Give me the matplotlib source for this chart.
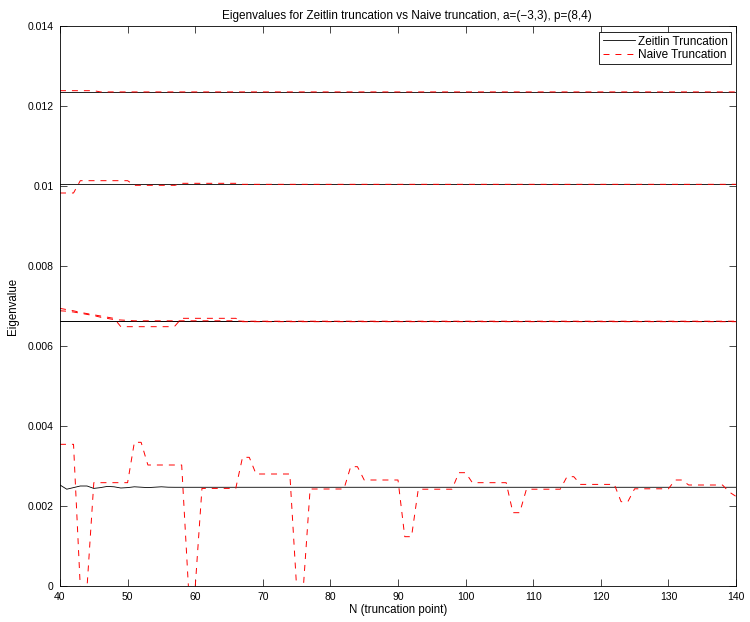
import numpy as np
import matplotlib
matplotlib.use("Agg")
import matplotlib.pyplot as plt

plt.rcParams['font.family'] = ['Liberation Sans', 'DejaVu Sans']
plt.rcParams['lines.scale_dashes'] = False

# truncation points
N = np.arange(40, 141)

# Eigenvalues, stored as (value, how many N in a row)
# Zeitlin truncation
z_top = [(0.012358, 101)]
z_second = [(0.010042, 101)]
z_third_a = [(0.006622, 101)]
z_third_b = [(0.006633, 101)]
z_low_start = [0.002525, 0.00242, 0.00246, 0.00250, 0.00250, 0.00244, 0.00246,
               0.00249, 0.00248, 0.00245, 0.00246, 0.00248, 0.00247, 0.00246,
               0.00247, 0.00248, 0.00247]
z_low_rest = [(0.002468, 84)]

# Naive truncation
n_top = [(0.012383, 6), (0.012352, 95)]
n_second = [(0.009825, 3), (0.010133, 8), (0.010017, 7), (0.010067, 9), (0.010042, 74)]
n_third_a_start = [0.00694, 0.00691, 0.00688, 0.00684, 0.00681, 0.00678, 0.00675,
                   0.00672, 0.00669]
n_third_a_rest = [(0.006483, 8), (0.0065, 1), (0.006692, 9), (0.006608, 74)]
n_third_b_start = [0.00688, 0.00687, 0.00685, 0.00682, 0.00679, 0.00676, 0.00672,
                   0.00669, 0.00666, 0.00665, 0.00664]
n_third_b_rest = [(0.00663, 16), (0.00662, 74)]
n_low = [(0.003542, 3), (-0.00003, 2),
         (0.002583, 6), (0.003592, 2), (0.003025, 6), (-0.00003, 2),
         (0.00244, 6), (0.003217, 2), (0.0028, 6), (-0.00003, 2),
         (0.002425, 6), (0.002983, 2), (0.00265, 6), (0.001233, 2),
         (0.00242, 6), (0.002833, 2), (0.002583, 6), (0.001833, 2),
         (0.00242, 6), (0.002733, 2), (0.00254, 6), (0.002108, 2),
         (0.00243, 6), (0.00265, 2), (0.002525, 6), (0.00235, 1), (0.00224, 1)]


def expand(runs, start=()):
    vals = list(start)
    for v, k in runs:
        vals += [v] * k
    return np.array(vals)


zeitlin = np.column_stack([expand(z_top), expand(z_second), expand(z_third_a),
                           expand(z_third_b), expand(z_low_rest, z_low_start)])
naive = np.column_stack([expand(n_top), expand(n_second),
                         expand(n_third_a_rest, n_third_a_start),
                         expand(n_third_b_rest, n_third_b_start), expand(n_low)])

fig = plt.figure(figsize=(7.5, 6.22), dpi=100)
ax = fig.add_axes([60 / 750, 36 / 622, 676 / 750, 560 / 622])

hz = ax.plot(N, zeitlin, color='black', linewidth=0.6)
hn = ax.plot(N, naive, color='red', linewidth=0.7, linestyle='--', dashes=(4.3, 4.3))

ax.set_xlim(40, 140)
ax.set_ylim(0, 0.014)
ax.set_xticks(np.arange(40, 141, 10))
yt = [0, 0.002, 0.004, 0.006, 0.008, 0.01, 0.012, 0.014]
ax.set_yticks(yt)
ax.set_yticklabels(['%g' % v for v in yt])
ax.tick_params(direction='in', length=4.9, width=0.5, labelsize=7.5,
               top=True, right=True, pad=4.5)
for s in ax.spines.values():
    s.set_linewidth(0.6)

ax.set_title('Eigenvalues for Zeitlin truncation vs Naive truncation, a=(\u22123,3), p=(8,4)',
             fontsize=8.5, pad=5, x=0.513)
ax.set_xlabel('N (truncation point)', fontsize=8.3, labelpad=1)
ax.set_ylabel('Eigenvalue', fontsize=8.3, labelpad=6)

leg = ax.legend([hz[0], hn[0]], ['Zeitlin Truncation', 'Naive Truncation'],
                loc='upper right', bbox_to_anchor=(731 / 750, 1 - 32 / 622),
                bbox_transform=fig.transFigure, borderaxespad=0,
                fontsize=8.5, fancybox=False, framealpha=1,
                edgecolor='black', handlelength=2.7,
                handletextpad=0.25, labelspacing=0.1, borderpad=0.3)
leg.get_frame().set_linewidth(0.6)

fig.savefig('out.png', dpi=100)
